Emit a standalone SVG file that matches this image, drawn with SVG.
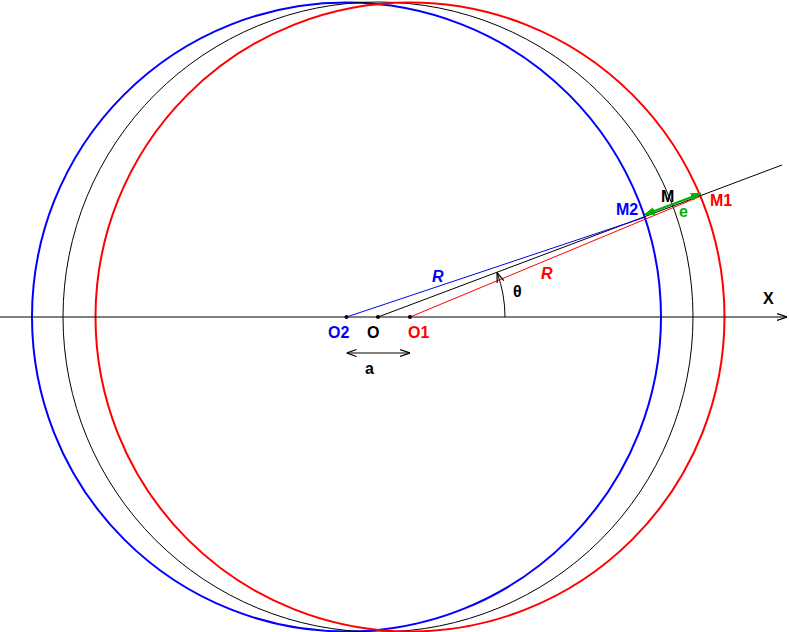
<svg xmlns="http://www.w3.org/2000/svg" width="789" height="632" viewBox="0 0 789 632">
<defs>
<style>
.t{font-family:"Liberation Sans",Arial,sans-serif;font-size:16px;font-weight:bold}
.thin{fill:none;stroke-width:1}
</style>
<marker id="open" viewBox="0 0 10 10" refX="10" refY="5" markerWidth="10" markerHeight="10" markerUnits="userSpaceOnUse" orient="auto-start-reverse">
<path d="M0,1.5 L10,5 L0,8.5" fill="none" stroke="#000" stroke-width="1.2"/>
</marker>
<marker id="gr" viewBox="0 0 10 10" refX="10" refY="5" markerWidth="10" markerHeight="10" markerUnits="userSpaceOnUse" orient="auto-start-reverse">
<path d="M0,1.5 L10,5 L0,8.5 Z" fill="#00b000" stroke="#00b000" stroke-width="1"/>
</marker>
</defs>
<rect width="789" height="632" fill="#fff"/>
<g id="circles">
<circle id="c2" cx="346.5" cy="317" r="314.5" fill="none" stroke="#0000ff" stroke-width="2"/>
<circle id="c0" cx="378" cy="317" r="315" fill="none" stroke="#000" stroke-width="1"/>
<circle id="c1" cx="410" cy="317" r="314.5" fill="none" stroke="#ff0000" stroke-width="2"/>
</g>
<g id="connectors">
<line x1="0" y1="317" x2="787" y2="317" stroke="#000" stroke-width="1.2" marker-end="url(#open)"/>
<line x1="378" y1="317" x2="782" y2="165" stroke="#000" stroke-width="1"/>
<line x1="346.5" y1="317" x2="644.8" y2="217.3" stroke="#0000ff" stroke-width="1"/>
<line x1="410" y1="317" x2="701" y2="196" stroke="#ff0000" stroke-width="1"/>
<path d="M505,317 A127,127 0 0 0 497,272.5" class="thin" stroke="#000" marker-end="url(#open)"/>
<line x1="346.5" y1="353" x2="410" y2="353" stroke="#000" stroke-width="1" marker-start="url(#open)" marker-end="url(#open)"/>
<line x1="645" y1="214.5" x2="701" y2="193.5" stroke="#00b000" stroke-width="2" marker-start="url(#gr)" marker-end="url(#gr)"/>
</g>
<g id="points">
<circle cx="346.5" cy="317" r="2" fill="#000"/>
<circle cx="378" cy="317" r="2" fill="#000"/>
<circle cx="410" cy="317" r="2" fill="#000"/>
</g>
<g id="labels">
<text class="t" x="328" y="338" fill="#0000ff">O2</text>
<text class="t" x="367" y="338" fill="#000">O</text>
<text class="t" x="408" y="338" fill="#ff0000">O1</text>
<text class="t" x="365" y="374" fill="#000">a</text>
<text class="t" x="432" y="282" fill="#0000ff" font-style="italic">R</text>
<text class="t" x="541" y="279" fill="#ff0000" font-style="italic">R</text>
<text class="t" x="513" y="297" fill="#000" font-weight="normal">θ</text>
<text class="t" x="661" y="202" fill="#000">M</text>
<text class="t" x="616" y="215" fill="#0000ff">M2</text>
<text class="t" x="710" y="206" fill="#ff0000">M1</text>
<text class="t" x="679" y="217" fill="#00b000">e</text>
<text class="t" x="763" y="304" fill="#000">X</text>
</g>
</svg>
